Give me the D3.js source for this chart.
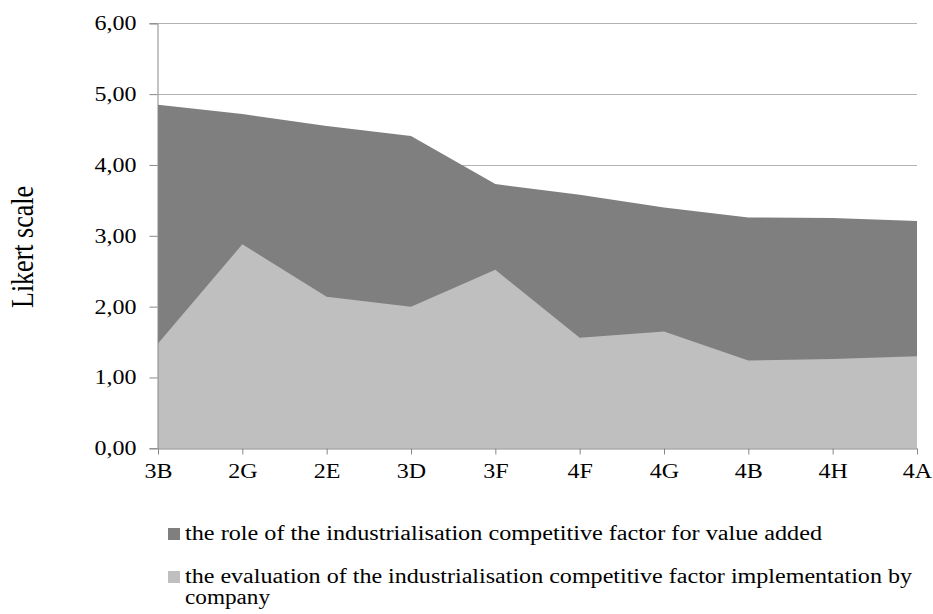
<!DOCTYPE html>
<html>
<head>
<meta charset="utf-8">
<script src="https://cdn.jsdelivr.net/npm/d3@7/dist/d3.min.js"></script>
<style>
  html, body { margin: 0; padding: 0; background: #ffffff; }
  svg { display: block; }
  svg text { font-family: "Liberation Serif", "Times New Roman", Times, serif !important; fill: #000; }
</style>
</head>
<body>
<svg id="chart" width="933" height="614"></svg>
<script>
// Companies / competitive factor groups on the x axis
const categories = ["3B", "2G", "2E", "3D", "3F", "4F", "4G", "4B", "4H", "4A"];

// Mean Likert scores per group
const roleValues = [4.85, 4.72, 4.55, 4.41, 3.73, 3.58, 3.40, 3.26, 3.25, 3.21];
const evaluationValues = [1.48, 2.88, 2.14, 2.00, 2.52, 1.56, 1.65, 1.24, 1.26, 1.30];

const yTicks = [0, 1, 2, 3, 4, 5, 6];
const yTitle = "Likert scale";
const seriesNames = [
  "the role of the industrialisation competitive factor for value added",
  "the evaluation of the industrialisation competitive factor implementation by",
  "company"
];
const seriesColors = ["#7f7f7f", "#bfbfbf"];

const svg = d3.select("#chart");
const margin = { top: 23.3, right: 16, bottom: 165.7, left: 158 };
const W = 933, H = 614;
const stretch = 1.2; // horizontal widening of all labels

const x = d3.scalePoint().domain(categories).range([margin.left, W - margin.right]);
const y = d3.scaleLinear().domain([0, 6]).range([H - margin.bottom, margin.top]);

const fmt = v => d3.format(".2f")(v).replace(".", ",");

// Horizontal gridlines
svg.append("g")
  .selectAll("line")
  .data(yTicks.filter(t => t > 0))
  .join("line")
  .attr("x1", margin.left).attr("x2", W - margin.right)
  .attr("y1", d => Math.round(y(d)) + 0.5).attr("y2", d => Math.round(y(d)) + 0.5)
  .attr("stroke", "#b3b3b3").attr("stroke-width", 1);

// Area series (overlapping, not stacked)
const area = vals => d3.area()
  .x((d, i) => x(categories[i]))
  .y0(y(0))
  .y1(d => y(d))(vals);

svg.append("path").attr("d", area(roleValues)).attr("fill", seriesColors[0]);
svg.append("path").attr("d", area(evaluationValues)).attr("fill", seriesColors[1]);

// Axes
const yAxis = d3.axisLeft(y).tickValues(yTicks).tickFormat(fmt).tickSize(8).tickPadding(13);
const gy = svg.append("g").attr("transform", `translate(${margin.left - 0.5},0)`).call(yAxis);
gy.attr("font-family", null);
gy.select(".domain").attr("stroke", "#888888");
gy.selectAll(".tick line").attr("stroke", "#888888");
gy.selectAll(".tick text").attr("font-size", 20).attr("fill", "#000");

const gx = svg.append("g").attr("transform", `translate(0,${Math.round(y(0)) + 0.5})`)
  .call(d3.axisBottom(x).tickSize(6).tickPadding(9).tickSizeOuter(0));
gx.attr("font-family", null);
gx.select(".domain").attr("stroke", "#888888");
gx.selectAll(".tick line").attr("stroke", "#888888");
gx.selectAll(".tick text").attr("font-size", 20).attr("fill", "#000");

// Widen tick labels horizontally
svg.selectAll(".tick text").each(function () {
  const len = this.getComputedTextLength();
  d3.select(this).attr("textLength", len * stretch).attr("lengthAdjust", "spacingAndGlyphs");
});

// Y axis title (glyphs widened to match the other labels)
svg.append("text")
  .attr("transform", `translate(33,247) scale(${stretch},1) rotate(-90)`)
  .attr("text-anchor", "middle")
  .attr("font-size", 26)
  .text(yTitle);

// Legend
const legend = svg.append("g");
legend.append("rect").attr("x", 168).attr("y", 528).attr("width", 12).attr("height", 12).attr("fill", seriesColors[0]);
legend.append("rect").attr("x", 168).attr("y", 571).attr("width", 12).attr("height", 12).attr("fill", seriesColors[1]);
const legendLines = [
  { text: seriesNames[0], y: 540, w: 637 },
  { text: seriesNames[1], y: 583, w: 727 },
  { text: seriesNames[2], y: 604, w: 85 }
];
legend.selectAll("text.lg")
  .data(legendLines)
  .join("text")
  .attr("class", "lg")
  .attr("x", 185)
  .attr("y", d => d.y)
  .attr("font-size", 20)
  .attr("textLength", d => d.w)
  .attr("lengthAdjust", "spacingAndGlyphs")
  .text(d => d.text);
</script>
</body>
</html>
